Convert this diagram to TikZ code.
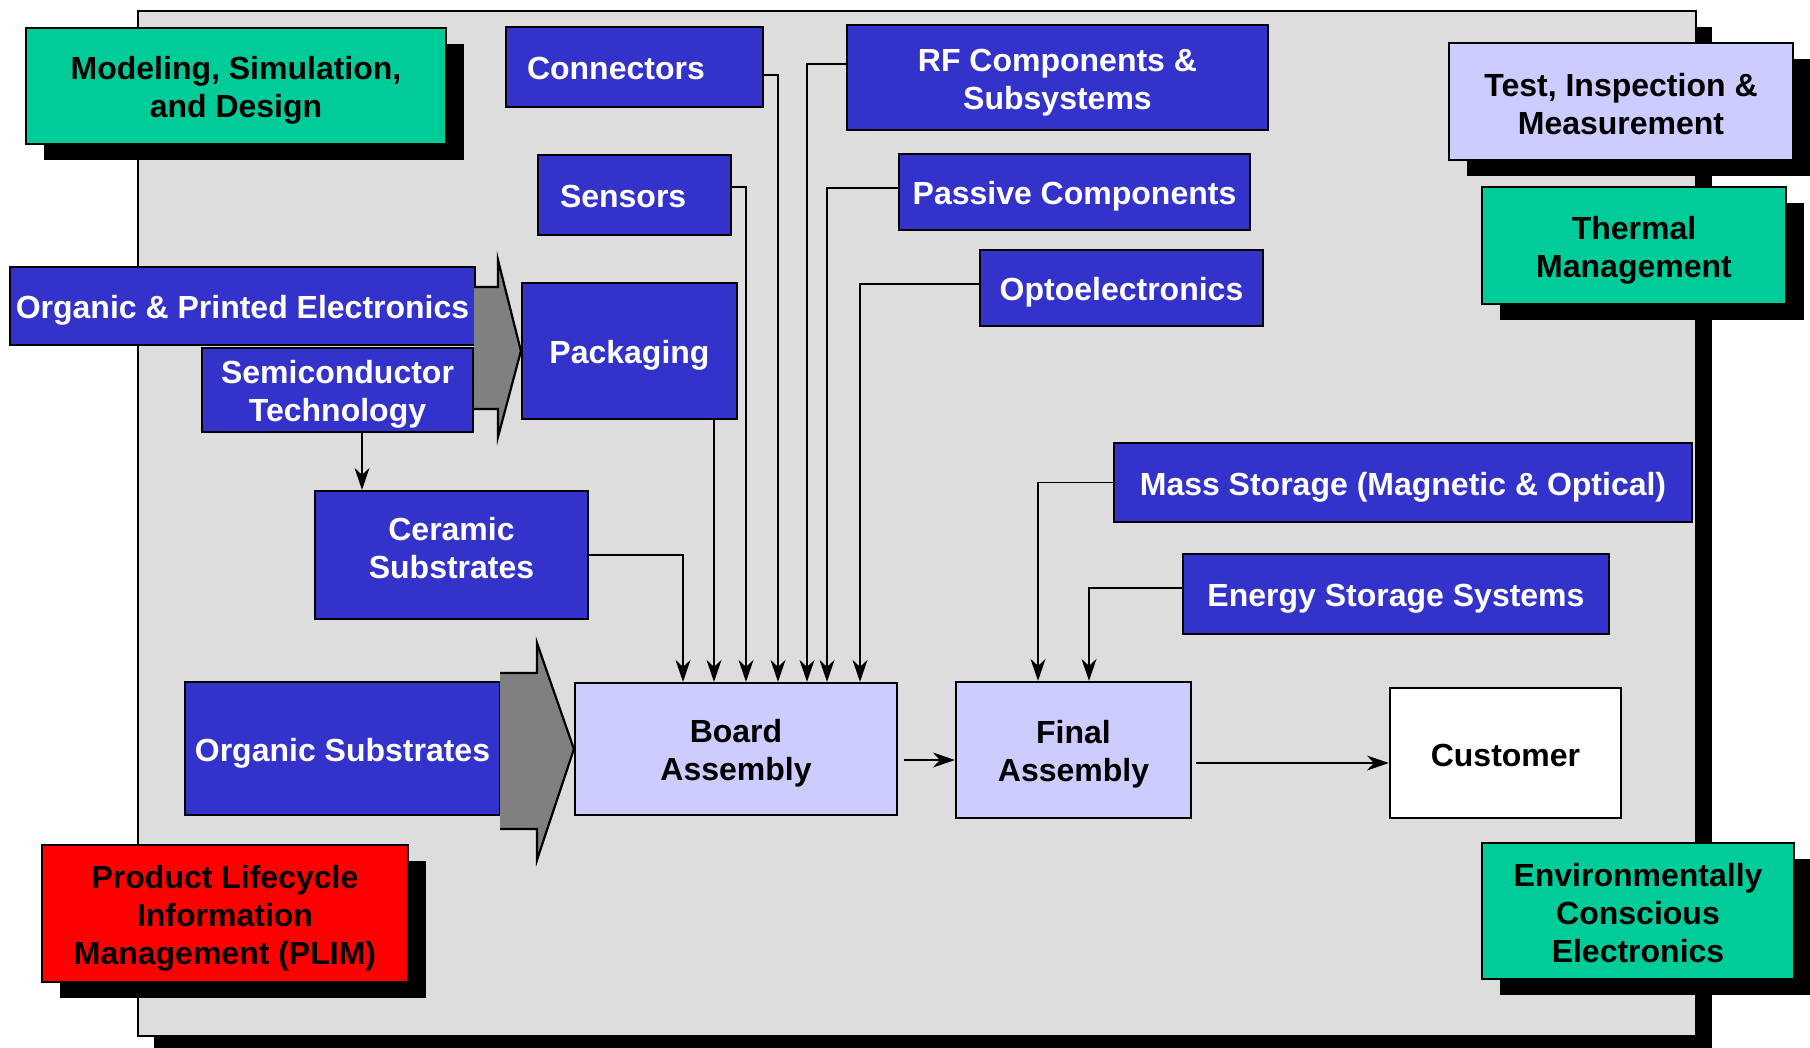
\documentclass[tikz,border=0pt]{standalone}
\usepackage{fontspec}
\setmainfont{Liberation Sans}
\usepackage{tikz}
\usetikzlibrary{shapes}
\usetikzlibrary{shadows,arrows.meta}

\definecolor{techblue}{HTML}{3333CC}
\definecolor{lavender}{HTML}{CCCCFF}
\definecolor{seagreen}{HTML}{00CC99}
\definecolor{panelgray}{HTML}{DDDDDD}
\newcommand{\capstrut}{\rule{0pt}{16.2pt}}

\begin{document}
\begin{tikzpicture}[x=0.5pt, y=-0.5pt,
  block/.style={draw=black, line width=1.1pt, inner sep=0pt, align=center,
    font=\fontsize{16pt}{19pt}\selectfont\bfseries,
    execute at begin node={\capstrut}},
  textlift/.style={execute at end node={\rule[-#1]{0pt}{#1}}},
  tech/.style={block, fill=techblue, text=white},
  stage/.style={block, fill=lavender},
  theme/.style={block, drop shadow={shadow xshift=9pt, shadow yshift=-8pt, fill=black, opacity=1}},
  feed/.style={line width=0.9pt, -{Stealth[length=11pt, width=7.5pt, inset=3.5pt]}},
  bigarrow/.style={draw=black, line width=1.1pt, fill=gray}]
%%% electronics manufacturing roadmap %%%

      \clip (0,0) rectangle (1810,1048);
      \node[draw=black, line width=1.1pt, fill=panelgray, inner sep=0pt,
        minimum width=779pt, minimum height=512.5pt,
        drop shadow={shadow xshift=8pt, shadow yshift=-8pt, fill=black, opacity=1}]
        (panel) at (917,523.5) {};

      %% cross-cutting themes
      \node[theme, fill=seagreen, minimum width=210pt, minimum height=58pt] (model) at (236,86)
        {\capstrut Modeling, Simulation,\\and Design};
      \node[theme, stage, textlift=2.3pt, minimum width=172pt, minimum height=58.5pt] (test) at (1621,101.5)
        {\capstrut Test, Inspection \&\\Measurement};
      \node[theme, fill=seagreen, minimum width=152pt, minimum height=58.5pt] (therm) at (1634,245.5)
        {\capstrut Thermal\\Management};
      \node[theme, fill=red, minimum width=183pt, minimum height=68.5pt] (plim) at (225,913.5)
        {\capstrut Product Lifecycle\\Information\\Management (PLIM)};
      \node[theme, fill=seagreen, textlift=2.3pt, minimum width=156pt, minimum height=68pt] (env) at (1638,911)
        {\capstrut Environmentally\\Conscious\\Electronics};

      %% technologies
      \node[tech, align=left, text width=107.5pt, inner xsep=10.5pt, minimum height=40pt,
        textlift=3.5pt] (conn) at (634.5,67)
        {Connectors};
      \node[tech, minimum width=210.5pt, minimum height=52.5pt] (rf) at (1057.5,77.5)
        {\capstrut RF Components \&\\Subsystems};
      \node[tech, align=left, text width=74.5pt, inner xsep=11pt, minimum height=40pt,
        textlift=3.5pt] (sens) at (634.5,195)
        {Sensors};
      \node[tech, minimum width=175.5pt, minimum height=38pt] (pass) at (1074.5,192)
        {Passive Components};
      \node[tech, minimum width=141.5pt, minimum height=38pt] (opto) at (1121.5,288)
        {Optoelectronics};
      \node[tech, minimum width=232.5pt, minimum height=39pt] (ope) at (242.5,306)
        {Organic \& Printed Electronics};
      \node[tech, minimum width=135.5pt, minimum height=42pt] (semi) at (337.5,390)
        {\capstrut Semiconductor\\Technology};
      \node[tech, minimum width=107.5pt, minimum height=68pt] (pack) at (629.5,351)
        {Packaging};
      \node[tech, textlift=11.6pt, minimum width=136.5pt, minimum height=64pt] (ceram) at (451.5,555)
        {\capstrut Ceramic\\Substrates};
      \node[tech, minimum width=157.5pt, minimum height=66.5pt] (orgsub) at (342.5,748.5)
        {Organic Substrates};
      \node[tech, minimum width=289pt, minimum height=39.5pt] (mass) at (1403,482.5)
        {Mass Storage (Magnetic \& Optical)};
      \node[tech, minimum width=213pt, minimum height=40pt] (energy) at (1396,594)
        {Energy Storage Systems};

      %% assembly chain
      \node[stage, minimum width=161pt, minimum height=66pt] (board) at (736,749)
        {\capstrut Board\\Assembly};
      \node[stage, minimum width=117.5pt, minimum height=68pt] (final) at (1073.5,750)
        {\capstrut Final\\Assembly};
      \node[block, fill=white, textlift=2.3pt, minimum width=115.5pt, minimum height=65pt] (cust) at (1505.5,753)
        {Customer};

      %% block arrows
      \path[bigarrow] (474,287) -- (498,287) -- (498,260) -- (pack.west)
        -- (498,437) -- (498,409) -- (474,409);
      \path[bigarrow] (500,673) -- (537,673) -- (537,643) -- (board.west)
        -- (537,860) -- (537,829) -- (500,829);

      %% feeds into board assembly
      \draw[feed] (ceram.east) -| (board.north -| 683,0);
      \draw[feed] (pack.south -| 714,0) -- (board.north -| 714,0);
      \draw[feed] ([yshift=4pt]sens.east) -| (board.north -| 746,0);
      \draw[feed] ([yshift=-4pt]conn.east) -| (board.north -| 778,0);
      \draw[feed] ([yshift=6.75pt]rf.west) -| (board.north -| 807,0);
      \draw[feed] ([yshift=2pt]pass.west) -| (board.north -| 827,0);
      \draw[feed] ([yshift=2pt]opto.west) -| (board.north -| 860,0);
      \draw[feed] (semi.south -| 362,0) -- (ceram.north -| 362,0);

      %% feeds into final assembly
      \draw[feed] (mass.west) -| (final.north -| 1038,0);
      \draw[feed] ([yshift=3pt]energy.west) -| (final.north -| 1089,0);
      \draw[feed] ([shift={(3pt,-5.5pt)}]board.east) -- ([yshift=-5pt]final.west);
      \draw[feed] ([shift={(2pt,-6.5pt)}]final.east) -- ([yshift=-5pt]cust.west);

\end{tikzpicture}
\end{document}
